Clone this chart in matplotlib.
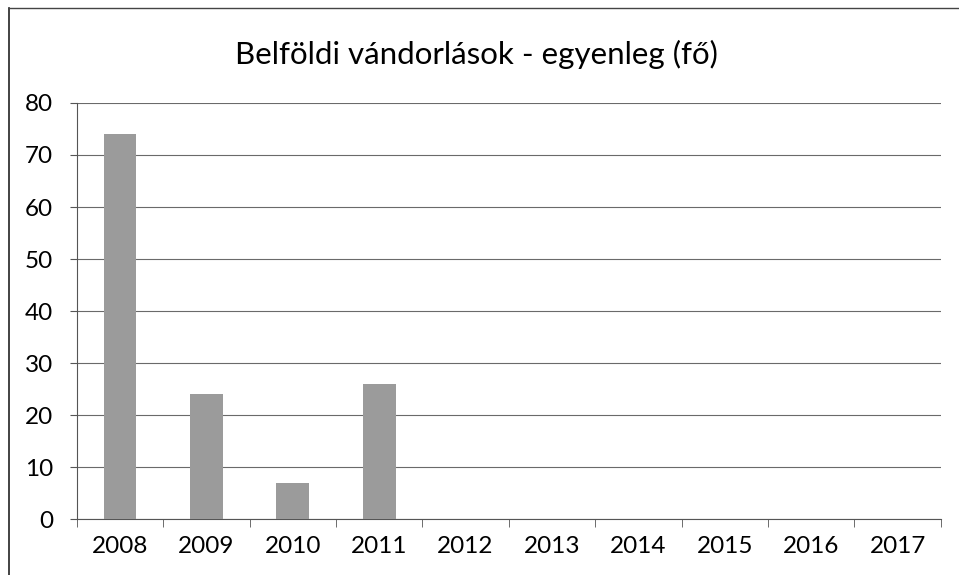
import matplotlib.pyplot as plt
import numpy as np

years = ['2008', '2009', '2010', '2011', '2012', '2013', '2014', '2015', '2016', '2017']
balance = [74, 24, 7, 26, 0, 0, 0, 0, 0, 0]
yticks = [0, 10, 20, 30, 40, 50, 60, 70, 80]

plt.rcParams['font.family'] = ['Lato', 'DejaVu Sans']

fig = plt.figure(figsize=(9.59, 5.75), dpi=100)
ax = fig.add_axes([0.080, 0.097, 0.901, 0.724])

x = np.arange(len(years))
ax.bar(x, balance, width=0.38, color='#9b9b9b', zorder=3)

ax.set_xlim(-0.5, len(years) - 0.5)
ax.set_ylim(0, 80)
ax.set_yticks(yticks)
ax.set_yticklabels([str(v) for v in yticks], fontsize=17.5)
ax.set_xticks(x)
ax.set_xticklabels(years, fontsize=17.5)
ax.tick_params(axis='x', length=0, pad=12)
ax.set_xticks(np.arange(-0.5, len(years)), minor=True)
ax.tick_params(axis='x', which='minor', length=6, color='#555555', direction='out')
ax.tick_params(axis='y', length=5, color='#555555', pad=12)

ax.yaxis.grid(True, color='#6a6a6a', linewidth=0.8, zorder=0)
for s in ['top', 'right']:
    ax.spines[s].set_visible(False)
ax.spines['left'].set_color('#555555')
ax.spines['bottom'].set_color('#555555')
ax.spines['left'].set_linewidth(0.8)
ax.spines['bottom'].set_linewidth(0.8)

fig.text(0.497, 0.905, 'Belföldi vándorlások - egyenleg (fő)', ha='center', va='center', fontsize=22.5)

# outer frame of the scanned chart
fig.add_artist(plt.Line2D([0.009, 0.009], [0, 0.986], transform=fig.transFigure, color='#222222', linewidth=1.2))
fig.add_artist(plt.Line2D([0.009, 1.0], [0.986, 0.986], transform=fig.transFigure, color='#444444', linewidth=1.0))

fig.savefig('out.png', dpi=100)
